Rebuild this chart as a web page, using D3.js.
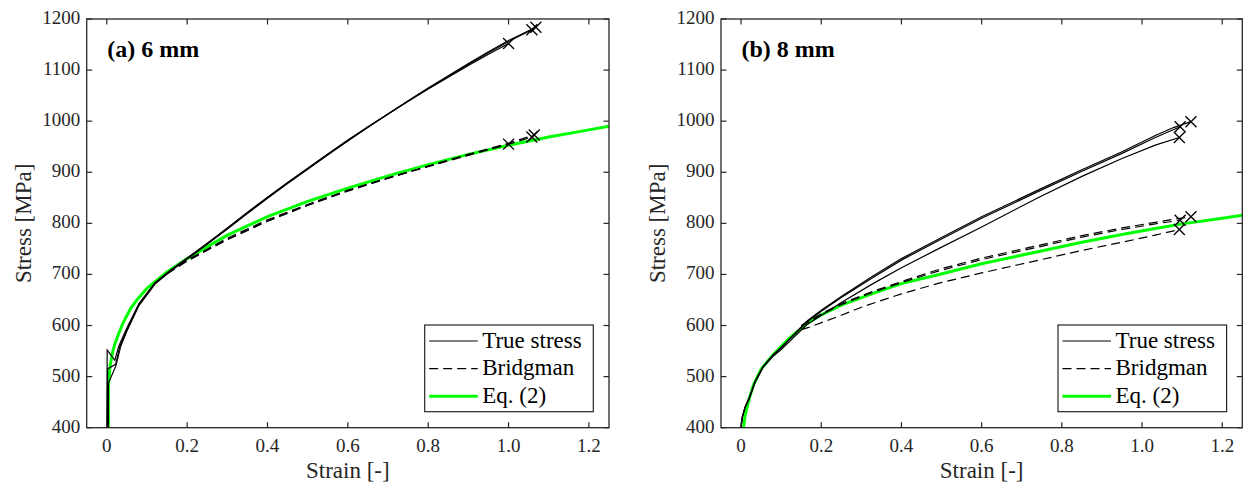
<!DOCTYPE html>
<html><head><meta charset="utf-8">
<script src="https://cdn.jsdelivr.net/npm/d3@7"></script>
<style>
body{margin:0;background:#fff;}
svg text{font-family:"Liberation Serif","DejaVu Serif",serif;}
</style></head>
<body><svg id="chart" width="1245" height="487"></svg>
<script>
// ---------- data ----------
const xTicks = [0, 0.2, 0.4, 0.6, 0.8, 1.0, 1.2];
const xTickLabels = ["0", "0.2", "0.4", "0.6", "0.8", "1.0", "1.2"];
const yTicks = [400, 500, 600, 700, 800, 900, 1000, 1100, 1200];
const xDomain = [-0.05, 1.25];
const yDomain = [400, 1200];
const panelTitles = ["(a) 6 mm", "(b) 8 mm"];
const legendLabels = ["True stress", "Bridgman", "Eq. (2)"];
const xLabel = "Strain [-]";
const yLabel = "Stress [MPa]";

// panel (a) 6 mm — true stress curves [strain, stress]
const a_true1 = [[0,400],[0.001,552],[0.02,532],[0.03,560],[0.05,595],[0.08,643],[0.12,684],[0.16,709],[0.2,732],[0.25,761],[0.3,791],[0.35,822],[0.4,851],[0.45,880],[0.5,908],[0.55,936],[0.6,963],[0.65,989],[0.7,1014],[0.75,1039],[0.8,1063],[0.85,1086],[0.9,1109],[0.95,1131],[1.0,1152]];
const a_true2 = [[0.002,400],[0.002,515],[0.022,524],[0.032,558],[0.05,592],[0.08,641],[0.12,683],[0.16,708],[0.2,731],[0.25,760],[0.3,790],[0.35,820],[0.4,850],[0.45,879],[0.5,907],[0.55,935],[0.6,962],[0.65,988],[0.7,1014],[0.75,1039],[0.8,1064],[0.85,1088],[0.9,1111],[0.95,1134],[1.0,1156],[1.058,1179]];
const a_true3 = [[0.004,400],[0.004,487],[0.023,522],[0.035,560],[0.05,589],[0.08,639],[0.12,681],[0.16,707],[0.2,730],[0.25,759],[0.3,789],[0.35,819],[0.4,849],[0.45,878],[0.5,906],[0.55,934],[0.6,961],[0.65,988],[0.7,1014],[0.75,1040],[0.8,1065],[0.85,1089],[0.9,1113],[0.95,1136],[1.0,1158],[1.068,1184]];
// panel (a) Bridgman curves
const a_brid1 = [[0.15,703],[0.2,728],[0.3,771],[0.4,807],[0.5,837],[0.6,865],[0.7,889],[0.8,911],[0.9,933],[1.0,955]];
const a_brid2 = [[0.15,702],[0.2,727],[0.3,769],[0.4,805],[0.5,836],[0.6,864],[0.7,889],[0.8,912],[0.9,935],[1.0,955],[1.058,969]];
const a_brid3 = [[0.15,701],[0.2,726],[0.3,768],[0.4,804],[0.5,835],[0.6,863],[0.7,888],[0.8,912],[0.9,935],[1.0,957],[1.064,973]];
// panel (a) Eq. (2)
const a_eq = [[0.004,400],[0.004,480],[0.008,520],[0.015,550],[0.021,566],[0.03,585],[0.041,606],[0.06,634],[0.075,650],[0.1,673],[0.15,705],[0.2,731],[0.3,777],[0.4,813],[0.5,843],[0.6,869],[0.7,893],[0.8,915],[0.9,935],[1.0,953],[1.1,969],[1.2,983],[1.25,990]];

// panel (b) 8 mm — true stress curves
const b_true1 = [[0,400],[0.003,420],[0.01,440],[0.022,462],[0.035,491],[0.055,520],[0.08,543],[0.1,557],[0.12,573],[0.163,608],[0.2,630],[0.25,657],[0.329,697],[0.4,731],[0.494,770],[0.6,813],[0.743,866],[0.85,905],[0.95,940],[1.033,972],[1.08,988],[1.122,999]];
const b_true2 = [[0,400],[0.003,420],[0.01,440],[0.022,461],[0.035,490],[0.055,519],[0.08,542],[0.1,556],[0.12,572],[0.163,606],[0.2,628],[0.25,655],[0.329,694],[0.4,728],[0.494,767],[0.6,810],[0.743,863],[0.85,902],[0.95,937],[1.033,968],[1.095,989]];
const b_true3 = [[0,400],[0.003,420],[0.01,439],[0.022,460],[0.035,489],[0.055,518],[0.08,540],[0.1,553],[0.12,568],[0.163,601],[0.2045,622],[0.25,645],[0.329,682],[0.4,713],[0.494,751],[0.6,793],[0.743,851],[0.85,892],[0.95,927],[1.033,953],[1.093,968]];
// panel (b) Bridgman curves
const b_brid1 = [[0.15,600],[0.2045,625],[0.25,643],[0.329,667],[0.4,686],[0.494,710],[0.6,732],[0.743,757],[0.85,776],[0.95,791],[1.033,802],[1.08,808],[1.122,813]];
const b_brid2 = [[0.15,599],[0.2045,623],[0.25,641],[0.329,665],[0.4,684],[0.494,707],[0.6,729],[0.743,754],[0.85,773],[0.95,788],[1.033,799],[1.095,806]];
const b_brid3 = [[0.15,592],[0.171,597],[0.25,620],[0.304,637],[0.4,662],[0.494,683],[0.6,703],[0.743,728],[0.85,747],[0.95,763],[1.033,777],[1.093,788]];
// panel (b) Eq. (2)
const b_eq = [[0.006,400],[0.01,423],[0.02,456],[0.031,484],[0.05,515],[0.08,543],[0.12,575],[0.163,603],[0.2,621],[0.25,640],[0.329,663],[0.4,682],[0.494,700],[0.6,721],[0.743,745],[0.85,763],[0.95,778],[1.033,790],[1.1,799],[1.2,810],[1.25,816]];

// ---------- drawing ----------
const svg = d3.select("#chart");
const axisColor = "#262626";
const serif = "'Liberation Serif','DejaVu Serif',serif";

const panels = [
  {left:86.7, right:609, title:panelTitles[0], trues:[a_true1,a_true2,a_true3], brids:[a_brid1,a_brid2,a_brid3], eq:a_eq},
  {left:721, right:1242.3, title:panelTitles[1], trues:[b_true1,b_true2,b_true3], brids:[b_brid1,b_brid2,b_brid3], eq:b_eq}
];
const plotTop = 19, plotBottom = 427.7;

panels.forEach(p => {
  const x = d3.scaleLinear().domain(xDomain).range([p.left, p.right]);
  const y = d3.scaleLinear().domain(yDomain).range([plotBottom, plotTop]);
  const g = svg.append("g").attr("font-family", serif);
  const line = d3.line().x(d => x(d[0])).y(d => y(d[1]));

  const cid = "clip" + Math.round(p.left);
  svg.append("clipPath").attr("id", cid).append("rect")
    .attr("x", p.left).attr("y", plotTop).attr("width", p.right - p.left).attr("height", plotBottom - plotTop);
  const plot = g.append("g").attr("clip-path", `url(#${cid})`);

  plot.append("path").datum(p.eq).attr("d", line)
    .attr("fill","none").attr("stroke","#00ff00").attr("stroke-width",3);
  p.brids.forEach(s => plot.append("path").datum(s).attr("d", line)
    .attr("fill","none").attr("stroke","#000").attr("stroke-width",1.2).attr("stroke-dasharray","9,5"));
  p.trues.forEach(s => plot.append("path").datum(s).attr("d", line)
    .attr("fill","none").attr("stroke","#000").attr("stroke-width",1.2));
  const ends = p.trues.concat(p.brids).map(s => s[s.length-1]);
  const ms = 5.5;
  ends.forEach(e => {
    const cx = x(e[0]), cy = y(e[1]);
    g.append("path").attr("d", `M${cx-ms},${cy-ms}L${cx+ms},${cy+ms}M${cx-ms},${cy+ms}L${cx+ms},${cy-ms}`)
      .attr("stroke","#000").attr("stroke-width",1.3).attr("fill","none");
  });

  g.append("rect").attr("x", p.left).attr("y", plotTop).attr("width", p.right-p.left).attr("height", plotBottom-plotTop)
    .attr("fill","none").attr("stroke",axisColor).attr("stroke-width",1.3);

  const tl = 5.5;
  xTicks.forEach((t,i) => {
    const xx = x(t);
    g.append("line").attr("x1",xx).attr("x2",xx).attr("y1",plotBottom).attr("y2",plotBottom-tl).attr("stroke",axisColor).attr("stroke-width",1.2);
    g.append("line").attr("x1",xx).attr("x2",xx).attr("y1",plotTop).attr("y2",plotTop+tl).attr("stroke",axisColor).attr("stroke-width",1.2);
    g.append("text").attr("x",xx).attr("y",451.5).attr("text-anchor","middle").attr("font-family",serif)
      .attr("font-size",19).attr("fill",axisColor).text(xTickLabels[i]);
  });
  yTicks.forEach(t => {
    const yy = y(t);
    g.append("line").attr("x1",p.left).attr("x2",p.left+tl).attr("y1",yy).attr("y2",yy).attr("stroke",axisColor).attr("stroke-width",1.2);
    g.append("line").attr("x1",p.right).attr("x2",p.right-tl).attr("y1",yy).attr("y2",yy).attr("stroke",axisColor).attr("stroke-width",1.2);
    g.append("text").attr("x",p.left-6.5).attr("y",yy+5).attr("text-anchor","end").attr("font-family",serif)
      .attr("font-size",19).attr("fill",axisColor).text(t);
  });

  g.append("text").attr("x",(p.left+p.right)/2).attr("y",478).attr("text-anchor","middle").attr("font-family",serif)
    .attr("font-size",23).attr("fill",axisColor).text(xLabel);
  g.append("text").attr("transform",`translate(${p.left-56},${(plotTop+plotBottom)/2}) rotate(-90)`).attr("font-family",serif)
    .attr("text-anchor","middle").attr("font-size",23).attr("fill",axisColor).text(yLabel);

  g.append("text").attr("x", p.left+20.5).attr("y",57).attr("font-size",24).attr("font-weight","bold").attr("font-family",serif)
    .attr("fill","#000").text(p.title);

  const lw = 168.6, lh = 86.7;
  const lx = p.right - 16 - lw + 0.3, ly = 325;
  const lg = g.append("g");
  lg.append("rect").attr("x",lx).attr("y",ly).attr("width",lw).attr("height",lh)
    .attr("fill","#fff").attr("stroke",axisColor).attr("stroke-width",1.2);
  const rows = [
    {stroke:"#000", w:1.2, dash:null},
    {stroke:"#000", w:1.2, dash:"9,5"},
    {stroke:"#00ff00", w:3, dash:null}
  ];
  rows.forEach((r,i) => {
    const ry = ly + 16 + i*27.6;
    lg.append("line").attr("x1",lx+4.5).attr("x2",lx+53).attr("y1",ry).attr("y2",ry)
      .attr("stroke",r.stroke).attr("stroke-width",r.w).attr("stroke-dasharray",r.dash);
    lg.append("text").attr("x",lx+57.5).attr("y",ry+6.5).attr("font-size",23).attr("font-family",serif)
      .attr("fill","#000").text(legendLabels[i]);
  });
});
</script></body></html>
